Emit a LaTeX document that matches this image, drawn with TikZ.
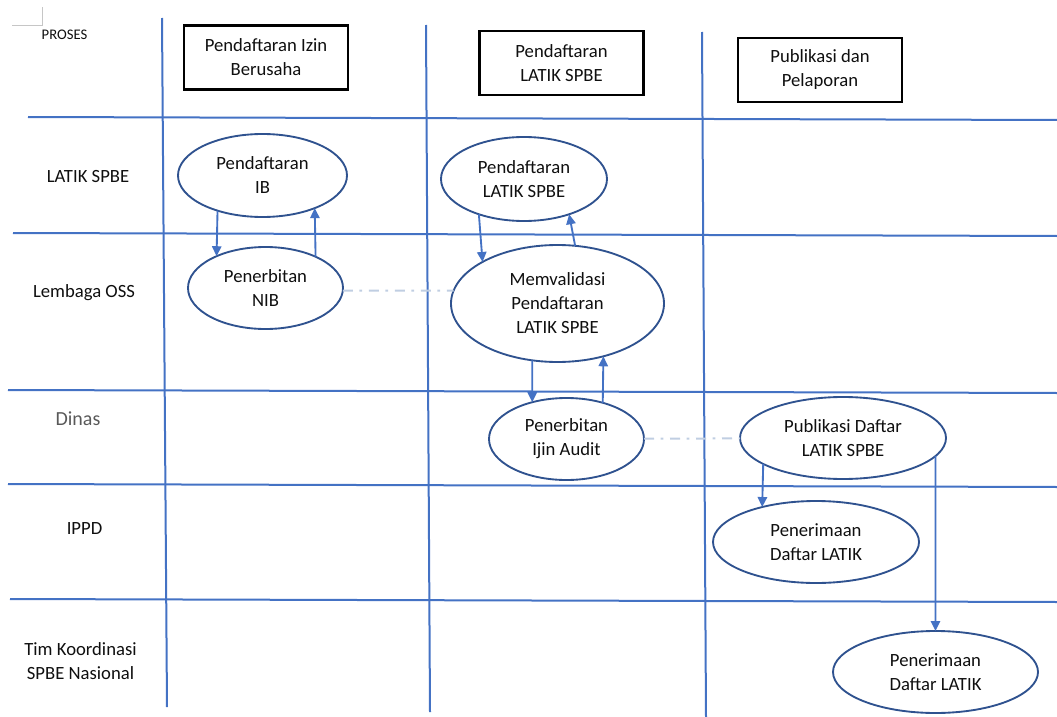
\documentclass[tikz,border=0pt]{standalone}
\usepackage{fontspec}
\setmainfont{Carlito}
\usetikzlibrary{shapes.geometric,arrows.meta}
\definecolor{lanecol}{RGB}{68,114,196}
\definecolor{rimcol}{RGB}{47,82,143}
\definecolor{dashcol}{RGB}{192,206,226}
\definecolor{inkcol}{RGB}{15,15,15}

\begin{document}
\begin{tikzpicture}[x=0.75pt,y=-0.75pt,
	lanes/.style={lanecol,line width=1.5pt},
	proc/.style={ellipse,draw=rimcol,line width=1.4pt,inner sep=0pt,outer sep=0pt,align=center,text=inkcol,font=\fontsize{14}{18}\selectfont},
	head/.style={rectangle,draw=black,line width=1.6pt,minimum width=123pt,minimum height=48pt,align=center,text=inkcol,font=\fontsize{14}{18}\selectfont},
	role/.style={align=center,text=inkcol,font=\fontsize{14}{18}\selectfont},
	flow/.style={lanecol,line width=1.4pt,-{Triangle[length=7.5pt,width=7pt]}},
	dashlink/.style={dashcol,line width=1.5pt,dash pattern=on 7.5pt off 5pt on 2pt off 5pt}]
	\useasboundingbox (0,0) rectangle (1057,717);
	
	% grid
	\draw[gray!45,line width=0.6pt] (12,25) -- (42,25) -- (42,7);
	\draw[lanes] (162,18) -- (167,707);
	\draw[lanes] (426,25) -- (430,712);
	\draw[lanes] (702,32) -- (706,717);
	\draw[lanes] (28,117) -- (1057,120);
	\draw[lanes] (13,233) -- (1057,236);
	\draw[lanes] (8,390) -- (1057,393);
	\draw[lanes] (8,484) -- (1057,487);
	\draw[lanes] (10,599) -- (1057,602);
	
	% lanes
	\node[role,font=\fontsize{11}{13}\selectfont] (r0) at (64.5,35) {PROSES};
	\node[role] (r1) at (88,177) {LATIK SPBE};
	\node[role] (r2) at (84,293) {Lembaga OSS};
	\node[role,text=black!65,font=\fontsize{15}{18}\selectfont] (r3) at (78,419) {Dinas};
	\node[role] (r4) at (84.5,529) {IPPD};
	\node[role] (r5) at (80.5,661) {Tim Koordinasi\\SPBE Nasional};
	
	% columns
	\node[head] (h1) at (266,57.5) {Pendaftaran Izin\\Berusaha};
	\node[head] (h2) at (561.5,63) {Pendaftaran\\LATIK SPBE};
	\node[head] (h3) at (820,70) {Publikasi dan\\Pelaporan};
	
	% steps
	\node[proc,minimum width=126.75pt,minimum height=62.25pt] (ib) at (262.5,175.5) {Pendaftaran\\IB};
	\node[proc,minimum width=116.25pt,minimum height=61.5pt] (nib) at (265.5,288) {Penerbitan\\NIB};
	\node[proc,minimum width=124.5pt,minimum height=63pt] (dl) at (524,179) {Pendaftaran\\LATIK SPBE};
	\node[proc,minimum width=159.75pt,minimum height=87.75pt] (val) at (557.5,303.5) {Memvalidasi\\Pendaftaran\\LATIK SPBE};
	\node[proc,minimum width=116.25pt,minimum height=61.5pt] (audit) at (566.5,439) {Penerbitan\\Ijin Audit};
	\node[proc,minimum width=154.5pt,minimum height=61.5pt] (pub) at (843,438) {Publikasi Daftar\\LATIK SPBE};
	\node[proc,minimum width=154.5pt,minimum height=61.5pt] (t1) at (816,542) {Penerimaan\\Daftar LATIK};
	\node[proc,minimum width=153.75pt,minimum height=61.5pt] (t2) at (935.5,672) {Penerimaan\\Daftar LATIK};
	
	% Pendaftaran Izin Berusaha
	\draw[flow] (ib.218) -- (nib.147);
	\draw[flow] (nib.32) -- (ib.328);
	\draw[dashlink] (nib.-2) -- (val.173);
	% Pendaftaran LATIK SPBE
	\draw[flow] (dl.218) -- (val.151);
	\draw[flow] (val.73) -- (dl.322);
	\draw[flow] (val.246) -- (audit.133);
	\draw[flow] (audit.45) -- (val.311);
	\draw[dashlink] (audit) -- (pub);
	% Publikasi dan Pelaporan
	\draw[flow] (pub.198) -- (t1.147);
	\draw[flow] (pub.349) -- (t2.90);
\end{tikzpicture}
\end{document}
